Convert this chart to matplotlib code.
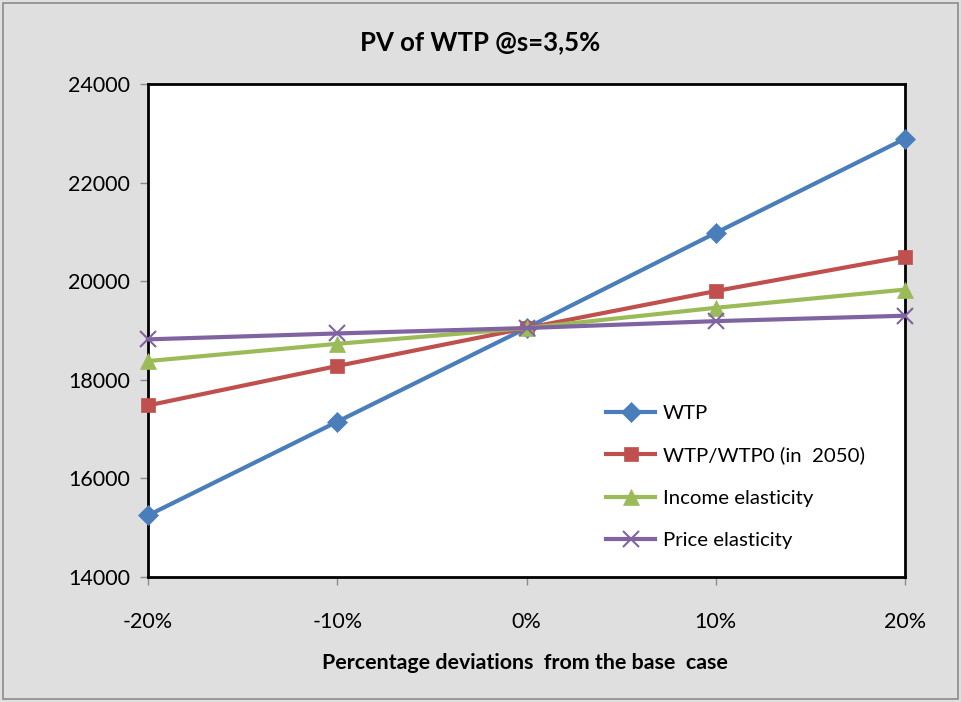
import matplotlib.pyplot as plt
from matplotlib.patches import Rectangle

plt.rcParams['font.family'] = ['Lato', 'DejaVu Sans']

deviations = [-20, -10, 0, 10, 20]
wtp = [15250, 17150, 19050, 20980, 22890]
wtp_ratio = [17480, 18280, 19050, 19800, 20500]
income_el = [18380, 18730, 19050, 19460, 19830]
price_el = [18820, 18940, 19050, 19190, 19300]

series = [
    ("WTP", wtp, "#4a7ebb", "D", 10),
    ("WTP/WTP0 (in  2050)", wtp_ratio, "#c0504d", "s", 10),
    ("Income elasticity", income_el, "#9bbb59", "^", 11),
    ("Price elasticity", price_el, "#8064a2", "x", 11),
]

fig = plt.figure(figsize=(9.61, 7.02), dpi=100, facecolor="#dfdfdf")
fig.patches.append(Rectangle((3 / 961, 3 / 702), 955 / 961, 696 / 702,
                             transform=fig.transFigure, fill=False,
                             edgecolor="#8c8c8c", linewidth=1.2))
ax = fig.add_axes([148 / 961, 1 - 577 / 702, 757 / 961, 493 / 702])
ax.set_facecolor("white")

for label, vals, color, marker, ms in series:
    ax.plot(deviations, vals, color=color, linewidth=3, marker=marker,
            markersize=ms, markeredgewidth=1.5 if marker == "x" else 0.5,
            markeredgecolor=color, label=label, clip_on=False, zorder=3)

ax.set_xlim(-20, 20)
ax.set_ylim(14000, 24000)
ax.set_xticks(deviations)
ax.set_xticklabels([f"{d}%" for d in deviations])
ax.set_yticks(range(14000, 24001, 2000))
ax.tick_params(axis="both", labelsize=15.5, length=6, width=1, color="#8c8c8c",
               direction="out")
ax.tick_params(axis="y", pad=7)
ax.tick_params(axis="x", pad=19)
for sp in ax.spines.values():
    sp.set_linewidth(2)
    sp.set_color("black")

fig.text(0.5, 1 - 42 / 702, "PV of WTP @s=3,5%", ha="center", va="center",
         fontsize=18.5, fontweight="bold")
fig.text(525 / 961, 1 - 663 / 702, "Percentage deviations  from the base  case",
         ha="center", va="center", fontsize=15.4, fontweight="bold")

ax.legend(loc="upper left", bbox_to_anchor=(588 / 961, 1 - 386 / 702),
          bbox_transform=fig.transFigure, frameon=False, fontsize=14.7,
          handlelength=2.4, handletextpad=0.35, labelspacing=1.22)

fig.savefig("out.png", dpi=100, facecolor=fig.get_facecolor())
